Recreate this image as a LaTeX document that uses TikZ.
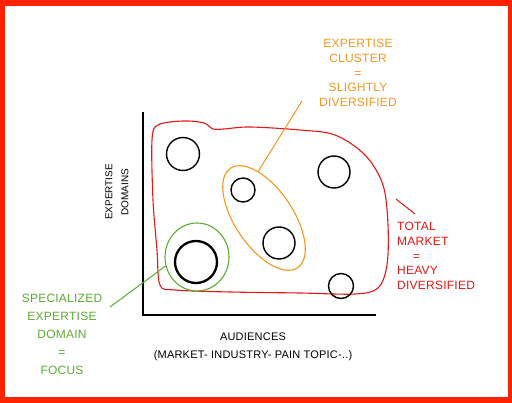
\documentclass[tikz,border=0pt]{standalone}
\usepackage{fontspec}
\setmainfont{Liberation Sans}
\newfontfamily\handfont[LetterSpace=2]{Liberation Sans}
\usetikzlibrary{shapes.geometric,positioning}
\definecolor{framered}{RGB}{255,34,0}
\definecolor{mktred}{RGB}{232,22,22}
\definecolor{clorange}{RGB}{247,150,30}
\definecolor{focgreen}{RGB}{92,172,52}

\begin{document}
\begin{tikzpicture}[x=1pt,y=-1pt,
  dom/.style={circle,draw,line width=1.4pt,inner sep=0pt,minimum size=#1},
  group/.style={ellipse,draw,line width=1.1pt,inner sep=0pt},
  note/.style={font=\handfont\fontsize{12}{14.75}\selectfont,align=center,inner sep=0pt},
  lead/.style={line width=1pt}]
% frame
\fill[framered] (0,0) rectangle (512,403);
\fill[white] (5,6) rectangle (508,397);
% axes
\coordinate (ytop) at (143,112);
\coordinate (origin) at (143,315);
\coordinate (xend) at (376,315);
\draw[line width=1.8pt] (ytop) -- (origin) -- (xend);
\node[rotate=90,font=\fontsize{10}{16}\selectfont,align=center] (ylab) at (117,192) {EXPERTISE\\DOMAINS};
\node[font=\handfont\fontsize{11}{18}\selectfont,align=center] (xlab) at (253,347) {AUDIENCES\\(MARKET- INDUSTRY- PAIN TOPIC-..)};
% total market
\draw[mktred,line width=1.1pt] plot[smooth cycle,tension=0.55] coordinates {
  (152,140) (158,125) (183,121) (204,123) (213,129) (224,129) (250,127)
  (300,130) (335,135) (365,155) (383,185) (388,225) (387,265) (378,288)
  (355,294) (300,293) (230,292) (175,290) (160,285) (157,250) (153,200)};
% domains
\node[dom=33pt] (d1) at (183,154) {};
\node[dom=24pt] (d2) at (243,190) {};
\node[dom=32pt] (d3) at (334,172) {};
\node[dom=32pt] (d4) at (279,243) {};
\node[dom=25pt] (d5) at (341,286) {};
\node[dom=42pt,line width=2.3pt] (d6) at (196,262) {};
% cluster and focus
\node[group,draw=clorange,minimum width=120pt,minimum height=58pt,rotate=-56] (cluster) at (264,218) {};
\node[group,draw=focgreen,minimum width=64pt,minimum height=68pt] (focus) at (197,257) {};
% notes
\node[note,text=clorange] (cltext) at (358,73) {EXPERTISE\\CLUSTER\\=\\SLIGHTLY\\DIVERSIFIED};
\node[note,text=mktred,align=left,anchor=west] (mktext) at (397,256) {TOTAL\\MARKET\\\hspace*{16pt}=\\HEAVY\\DIVERSIFIED};
\node[note,text=focgreen,font=\handfont\fontsize{12}{18}\selectfont] (fotext) at (62,334) {SPECIALIZED\\EXPERTISE\\DOMAIN\\=\\FOCUS};
% leaders
\coordinate (cltip) at (302,101);
\coordinate (mkedge) at (396,199);
\coordinate (mktip) at (415,214);
\coordinate (fotip) at (110,307);
\draw[lead,clorange] (cluster.153) -- (cltip);
\draw[lead,mktred] (mkedge) -- (mktip);
\draw[lead,focgreen] (focus.196) -- (fotip);
\end{tikzpicture}
\end{document}
